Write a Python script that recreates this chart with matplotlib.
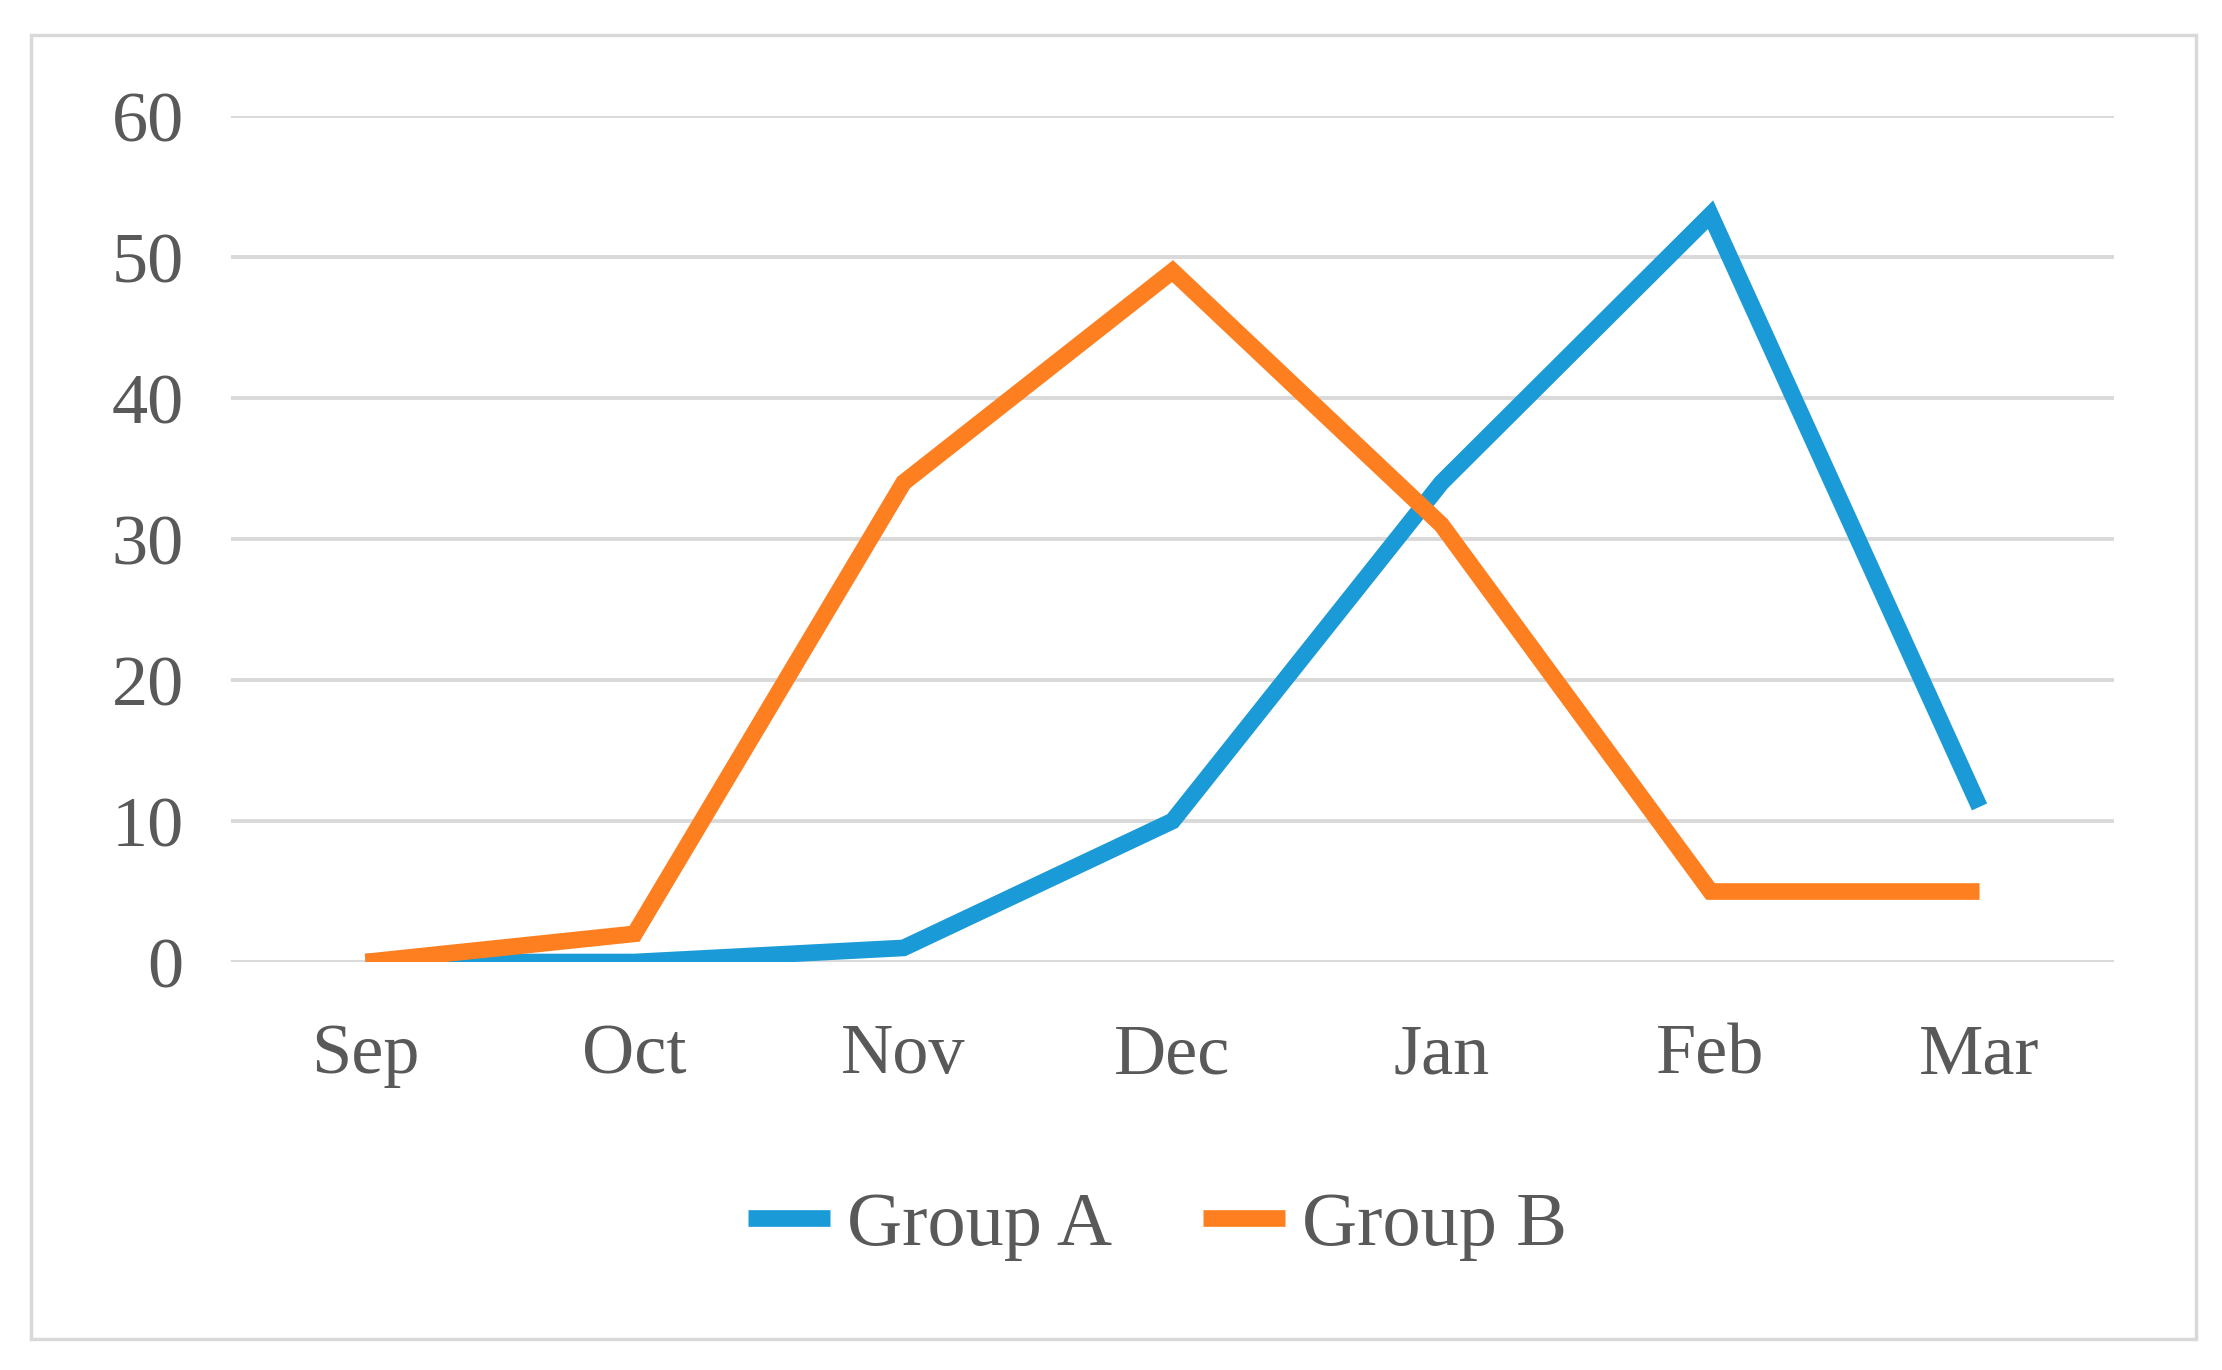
import matplotlib
matplotlib.use("Agg")
import matplotlib.pyplot as plt
from matplotlib.patches import Rectangle

months = ["Sep", "Oct", "Nov", "Dec", "Jan", "Feb", "Mar"]
group_a = [0, 0, 1, 10, 34, 53, 11]
group_b = [0, 2, 34, 49, 31, 5, 5]
yticks = [0, 10, 20, 30, 40, 50, 60]

plt.rcParams['font.family'] = ['Liberation Serif', 'DejaVu Serif']
txt = '#595959'

fig = plt.figure(figsize=(22.22, 13.70), dpi=100)
ax = fig.add_axes([0.104, 0.2978, 0.8474, 0.6175])

x = list(range(len(months)))
ax.plot(x, group_a, color='#1A9AD6', lw=12, solid_capstyle='butt', solid_joinstyle='miter', label='Group A', zorder=3)
ax.plot(x, group_b, color='#FE7F1F', lw=12, solid_capstyle='butt', solid_joinstyle='miter', label='Group B', zorder=3)

ax.set_xlim(-0.5, len(months) - 0.5)
ax.set_ylim(0, 60)
ax.set_yticks(yticks)
ax.set_xticks(x)
ax.set_xticklabels(months)
ax.yaxis.grid(True, color='#D9D9D9', lw=2.8)
ax.set_axisbelow(True)
for s in ax.spines.values():
    s.set_visible(False)
ax.tick_params(axis='both', length=0, labelsize=52, colors=txt)
ax.tick_params(axis='y', pad=34)
ax.tick_params(axis='x', pad=44)

fig.legend(loc='center', bbox_to_anchor=(0.521, 0.105), ncol=2, frameon=False,
           fontsize=55, handlelength=1.07, handletextpad=0.22, columnspacing=1.2,
           labelcolor=txt)

fig.patches.append(Rectangle((31/2222, 1 - 1339/1370), (2196-31)/2222, (1339-35)/1370,
                             transform=fig.transFigure, fill=False, edgecolor='#D9D9D9', lw=2.5))

fig.savefig('out.png', dpi=100, facecolor='white')
